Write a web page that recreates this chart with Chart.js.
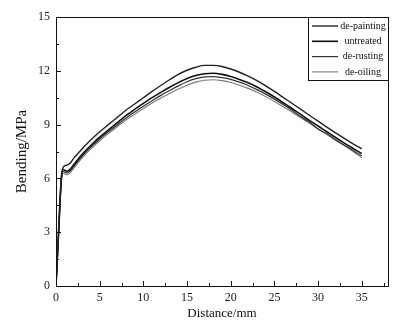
<!DOCTYPE html>
<html>
<head>
    <title>Bending vs Distance</title>
    <script src="https://cdn.jsdelivr.net/npm/chart.js@4.4.0/dist/chart.umd.min.js"></script>
    <style>
        html, body { margin: 0; padding: 0; background: #fff; }
        #wrap { width: 408px; height: 326px; }
    </style>
</head>
<body>
    <div id="wrap"><canvas id="bendChart" width="408" height="326"></canvas></div>
    <script>
        // distance along the specimen (mm)
        var distance = [0, 0.3, 0.6, 0.8, 1.0, 1.3, 1.6, 2, 3, 4, 5, 6, 7, 8, 9, 10, 11, 12, 13, 14, 15,
            16, 17, 18, 19, 20, 21, 22, 23, 24, 25, 26, 27, 28, 29, 30, 31, 32, 33, 34, 35];

        // bending stress (MPa) for each surface treatment
        var dePainting = [0, 3.2, 6.0, 6.6, 6.7, 6.75, 6.85, 7.1, 7.65, 8.15, 8.6, 9.0, 9.4, 9.8, 10.15, 10.5,
            10.85, 11.18, 11.5, 11.8, 12.03, 12.2, 12.3, 12.3, 12.24, 12.1, 11.92, 11.7, 11.45, 11.16, 10.85,
            10.52, 10.19, 9.86, 9.52, 9.19, 8.86, 8.54, 8.23, 7.93, 7.65];
        var untreated = [0, 3.0, 5.9, 6.5, 6.45, 6.4, 6.5, 6.75, 7.35, 7.85, 8.3, 8.7, 9.1, 9.5, 9.85, 10.18,
            10.5, 10.8, 11.08, 11.34, 11.57, 11.74, 11.84, 11.86, 11.8, 11.68, 11.52, 11.33, 11.1, 10.83, 10.54,
            10.22, 9.9, 9.57, 9.24, 8.92, 8.6, 8.28, 7.97, 7.67, 7.38];
        var deRusting = [0, 2.9, 5.8, 6.4, 6.35, 6.3, 6.4, 6.65, 7.25, 7.75, 8.2, 8.6, 8.98, 9.36, 9.7, 10.02,
            10.33, 10.63, 10.9, 11.16, 11.39, 11.56, 11.66, 11.68, 11.62, 11.52, 11.37, 11.18, 10.95, 10.7, 10.42,
            10.12, 9.8, 9.45, 9.15, 8.75, 8.5, 8.15, 7.85, 7.55, 7.25];
        var deOiling = [0, 2.8, 5.7, 6.3, 6.25, 6.2, 6.3, 6.55, 7.15, 7.65, 8.1, 8.5, 8.88, 9.25, 9.58, 9.9,
            10.2, 10.48, 10.74, 10.98, 11.2, 11.37, 11.47, 11.5, 11.45, 11.35, 11.2, 11.02, 10.8, 10.56, 10.29,
            10.0, 9.7, 9.38, 9.08, 8.75, 8.44, 8.13, 7.83, 7.5, 7.15];

        var xTicks = [0, 5, 10, 15, 20, 25, 30, 35];
        var yTicks = [0, 3, 6, 9, 12, 15];

        var serif = '"Liberation Serif", "DejaVu Serif", serif';

        function points(ys) {
            return distance.map(function (d, i) { return { x: d, y: ys[i] }; });
        }

        function series(label, ys, color, width) {
            return {
                label: label,
                data: points(ys),
                borderColor: color,
                borderWidth: width,
                pointRadius: 0,
                fill: false,
                cubicInterpolationMode: 'monotone'
            };
        }

        // box around the plot, inward ticks and the legend in the top right corner
        var framePlugin = {
            id: 'frame',
            afterDraw: function (chart) {
                var c = chart.ctx, a = chart.chartArea;
                var xs = chart.scales.x, ys = chart.scales.y;
                c.save();
                c.strokeStyle = '#111';
                c.lineWidth = 1;
                c.strokeRect(Math.round(a.left) + 0.5, Math.round(a.top) + 0.5,
                    Math.round(a.right - a.left), Math.round(a.bottom - a.top));

                c.beginPath();
                for (var v = 0; v <= 37.5; v += 2.5) {
                    var px = Math.round(xs.getPixelForValue(v)) + 0.5;
                    var len = (v % 5 === 0) ? 5 : 3;
                    c.moveTo(px, a.bottom);
                    c.lineTo(px, a.bottom - len);
                }
                for (var w = 0; w <= 15; w += 1.5) {
                    var py = Math.round(ys.getPixelForValue(w)) + 0.5;
                    var l2 = (w % 3 === 0) ? 5 : 3;
                    c.moveTo(a.left, py);
                    c.lineTo(a.left + l2, py);
                }
                c.stroke();

                // legend box
                var bx = 308, by = Math.round(a.top), bw = Math.round(a.right) - bx, bh = 63;
                c.strokeRect(bx + 0.5, by + 0.5, bw, bh);
                c.font = '10px ' + serif;
                c.textAlign = 'center';
                c.textBaseline = 'middle';
                chart.data.datasets.forEach(function (ds, i) {
                    var ly = by + 9 + i * 15.3;
                    c.strokeStyle = ds.borderColor;
                    c.lineWidth = ds.borderWidth;
                    c.beginPath();
                    c.moveTo(312, ly);
                    c.lineTo(338, ly);
                    c.stroke();
                    c.fillStyle = '#111';
                    c.fillText(ds.label, 363, ly);
                });
                c.restore();
            }
        };

        var ctx = document.getElementById('bendChart').getContext('2d');
        var bendChart = new Chart(ctx, {
            type: 'line',
            data: {
                datasets: [
                    series('de-painting', dePainting, '#222', 1.4),
                    series('untreated', untreated, '#111', 1.6),
                    series('de-rusting', deRusting, '#333', 1.2),
                    series('de-oiling', deOiling, '#7a7a7a', 1.1)
                ]
            },
            options: {
                responsive: false,
                animation: false,
                layout: { padding: { left: 0, right: 20, top: 17, bottom: 0 } },
                plugins: {
                    legend: { display: false },
                    tooltip: { enabled: false }
                },
                scales: {
                    x: {
                        type: 'linear',
                        min: 0,
                        max: 38,
                        afterBuildTicks: function (scale) {
                            scale.ticks = xTicks.map(function (v) { return { value: v }; });
                        },
                        afterFit: function (scale) { scale.height = 40; },
                        grid: { display: false, drawTicks: false },
                        border: { display: false },
                        ticks: { padding: 5, color: '#222', font: { family: serif, size: 12 }, maxRotation: 0 },
                        title: {
                            display: true,
                            text: 'Distance/mm',
                            color: '#111',
                            font: { family: serif, size: 13 },
                            padding: { top: 5, bottom: 5 }
                        }
                    },
                    y: {
                        min: 0,
                        max: 15,
                        afterBuildTicks: function (scale) {
                            scale.ticks = yTicks.map(function (v) { return { value: v }; });
                        },
                        afterFit: function (scale) { scale.width = 56; },
                        grid: { display: false, drawTicks: false },
                        border: { display: false },
                        ticks: { padding: 6, color: '#222', font: { family: serif, size: 12 } },
                        title: {
                            display: true,
                            text: 'Bending/MPa',
                            color: '#111',
                            font: { family: serif, size: 15 },
                            padding: { top: 13, bottom: 4 }
                        }
                    }
                }
            },
            plugins: [framePlugin]
        });
    </script>
</body>
</html>
